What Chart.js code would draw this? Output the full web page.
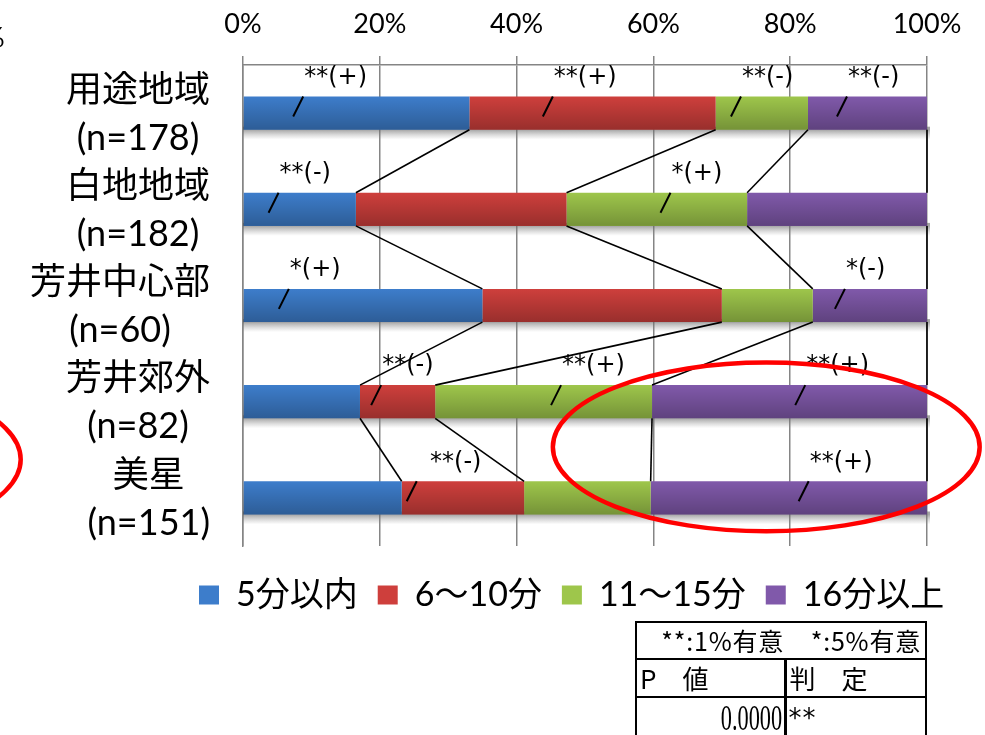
<!DOCTYPE html>
<html lang="ja">
<head>
<meta charset="utf-8">
<title>地域別 所要時間の構成比</title>
<script src="https://cdn.jsdelivr.net/npm/chart.js@4.4.1/dist/chart.umd.min.js"></script>
<style>
  html, body { margin: 0; padding: 0; background: #fff; }
  body { position: relative; width: 985px; height: 735px; overflow: hidden; font-family: Lato, "Noto Sans CJK JP", sans-serif; color: #000; }
  #chartBox { position: absolute; left: 0; top: 0; }
  .edge-pct { position: absolute; left: -17px; top: 23px; font: 27px/27px Lato, sans-serif; }
  table.sig { position: absolute; left: 635px; top: 621px; border-collapse: collapse; font-family: "Noto Sans CJK JP", sans-serif; }
  table.sig td { border: 2px solid #000; padding: 0; line-height: 1; white-space: nowrap; overflow: hidden; }
  table.sig .head td { height: 35px; font-size: 25px; letter-spacing: 0.8px; text-align: right; padding-right: 4px; }
  table.sig .cols td { height: 36px; font-size: 26px; padding-left: 3px; }
  table.sig .vals td { height: 40px; }
  table.sig td.split { border-right-width: 3px; }
  .pval { display: inline-block; font: 36px/36px "Liberation Serif", serif; transform: scaleX(0.62); transform-origin: right center; padding-right: 3px; }
  .judge { font: 26px "DejaVu Sans", sans-serif; letter-spacing: 1px; padding-left: 2px; vertical-align: middle; }
</style>
</head>
<body>
<canvas id="chartBox" width="985" height="622"></canvas>
<div class="edge-pct">%</div>

<table class="sig">
  <colgroup><col style="width:149px"><col style="width:141px"></colgroup>
  <tr class="head"><td colspan="2">**:1%有意&ensp;&ensp;*:5%有意</td></tr>
  <tr class="cols"><td class="split">P　値</td><td>判　定</td></tr>
  <tr class="vals"><td class="split" style="text-align:right"><span class="pval">0.0000</span></td><td><span class="judge">**</span></td></tr>
</table>

<script>
// ─── Data ─────────────────────────────────────────────────
const areas    = ['用途地域', '白地地域', '芳井中心部', '芳井郊外', '美星'];
const samples  = [178, 182, 60, 82, 151];
const bands    = ['5分以内', '6〜10分', '11〜15分', '16分以上'];

// share of respondents per travel-time band (%)
const within5   = [33.1, 16.5, 35.0, 17.1, 23.2];
const min6to10  = [36.0, 30.8, 35.0, 11.0, 17.9];
const min11to15 = [13.5, 26.4, 13.3, 31.7, 18.5];
const over16    = [17.4, 26.3, 16.7, 40.2, 40.4];

const pctTicks = [0, 20, 40, 60, 80, 100];

// significance marks: row, where on the bar (%), label
const marks = [
  { row: 0, at: 8.8,  text: '**(+)' },
  { row: 0, at: 45.3, text: '**(+)' },
  { row: 0, at: 72.8, text: '**(-)' },
  { row: 0, at: 88.3, text: '**(-)' },
  { row: 1, at: 5.2,  text: '**(-)' },
  { row: 1, at: 62.5, text: '*(+)' },
  { row: 2, at: 6.7,  text: '*(+)' },
  { row: 2, at: 88.0, text: '*(-)' },
  { row: 3, at: 20.2, text: '**(-)' },
  { row: 3, at: 46.5, text: '**(+)' },
  { row: 3, at: 82.2, text: '**(+)' },
  { row: 4, at: 25.4, text: '**(-)', textAt: 27.2 },
  { row: 4, at: 82.7, text: '**(+)' },
];

// red highlight rings (centre in % / row units, radii in the same units)
const rings = [
  { at: 76.5,  row: 3.47, spanX: 31.2, spanY: 0.877 },
  { at: -63.7, row: 3.6,  spanX: 31.2, spanY: 0.877 },
];

const seriesColors = ['#3d7dcb', '#ce3f3c', '#9ec64b', '#8059aa'];
const seriesValues = [within5, min6to10, min11to15, over16];

const FONT = 'Lato, "Noto Sans CJK JP", sans-serif';

// ─── Bar decoration: shadow, shading, series lines, marks ──
const barDecor = {
  id: 'barDecor',
  beforeDatasetsDraw(chart) {
    const { ctx, scales: { x } } = chart;
    const left = x.getPixelForValue(0);
    const width = x.getPixelForValue(100) - left;
    ctx.save();
    chart.getDatasetMeta(0).data.forEach(bar => {
      const bottom = bar.y + bar.height / 2;
      const g = ctx.createLinearGradient(0, bottom, 0, bottom + 10);
      g.addColorStop(0, 'rgba(105,105,105,0.6)');
      g.addColorStop(1, 'rgba(150,150,150,0)');
      ctx.fillStyle = g;
      ctx.fillRect(left, bottom - 3, width + 3, 13);
    });
    ctx.restore();
  },
  afterDatasetsDraw(chart) {
    const { ctx, scales: { x } } = chart;
    const left = x.getPixelForValue(0);
    const width = x.getPixelForValue(100) - left;
    const rows = chart.getDatasetMeta(0).data;
    ctx.save();

    // darker toward the bottom edge of every bar
    rows.forEach(bar => {
      const top = bar.y - bar.height / 2;
      const g = ctx.createLinearGradient(0, top, 0, top + bar.height);
      g.addColorStop(0, 'rgba(0,0,0,0)');
      g.addColorStop(1, 'rgba(0,0,0,0.26)');
      ctx.fillStyle = g;
      ctx.fillRect(left, top, width, bar.height);
    });

    // series lines joining the segment ends of neighbouring bars
    ctx.strokeStyle = '#000';
    ctx.lineWidth = 1.6;
    chart.data.datasets.forEach((ds, di) => {
      const segs = chart.getDatasetMeta(di).data;
      for (let i = 0; i < segs.length - 1; i++) {
        const a = segs[i], b = segs[i + 1];
        ctx.beginPath();
        ctx.moveTo(a.x, a.y + a.height / 2);
        ctx.lineTo(b.x, b.y - b.height / 2);
        ctx.stroke();
      }
    });

    // significance marks
    ctx.lineWidth = 2;
    ctx.font = '24px "DejaVu Sans", sans-serif';
    ctx.fillStyle = '#000';
    ctx.textAlign = 'left';
    ctx.textBaseline = 'middle';
    marks.forEach(m => {
      const bar = rows[m.row];
      const top = bar.y - bar.height / 2;
      const px = x.getPixelForValue(m.at);
      ctx.beginPath();
      ctx.moveTo(px, top);
      ctx.lineTo(px - 10, top + 20);
      ctx.stroke();
      ctx.fillText(m.text, x.getPixelForValue(m.textAt ?? m.at) + 1, top - 19);
    });
    ctx.restore();
  },
  afterDraw(chart) {
    const { ctx, scales: { x, y }, chartArea } = chart;
    ctx.save();

    // two-line category labels, each block centred on its own width
    ctx.font = '36px ' + FONT;
    ctx.fillStyle = '#000';
    ctx.textAlign = 'center';
    ctx.textBaseline = 'middle';
    const right = chartArea.left - 33;
    areas.forEach((name, i) => {
      const lines = [name, `(n=${samples[i]})`];
      const w = Math.max(...lines.map(l => ctx.measureText(l).width));
      const cy = y.getPixelForValue(i);
      ctx.fillText(lines[0], right - w / 2, cy - 23);
      ctx.fillText(lines[1], right - w / 2, cy + 25);
    });

    // highlight rings
    ctx.strokeStyle = '#ff0000';
    ctx.lineWidth = 4.5;
    rings.forEach(r => {
      const cx = x.getPixelForValue(r.at);
      const cy = y.getPixelForValue(r.row);
      const rx = x.getPixelForValue(r.at + r.spanX) - cx;
      const ry = y.getPixelForValue(r.row + r.spanY) - cy;
      ctx.beginPath();
      ctx.ellipse(cx, cy, rx, ry, 0, 0, Math.PI * 2);
      ctx.stroke();
    });
    ctx.restore();
  }
};

// ─── Chart ────────────────────────────────────────────────
new Chart(document.getElementById('chartBox'), {
  type: 'bar',
  data: {
    labels: areas,
    datasets: bands.map((label, i) => ({
      label,
      data: seriesValues[i],
      backgroundColor: seriesColors[i],
      borderWidth: 0,
      barPercentage: 0.345,
      categoryPercentage: 1,
    }))
  },
  options: {
    indexAxis: 'y',
    responsive: false,
    animation: false,
    events: [],
    layout: { padding: { top: 7, left: 179, right: 0, bottom: 0 } },
    scales: {
      x: {
        position: 'top',
        stacked: true,
        min: 0, max: 100,
        afterBuildTicks(scale) { scale.ticks = pctTicks.map(v => ({ value: v })); },
        afterFit(scale) {
          scale.height = 58;
          scale.paddingRight = 58;
          scale.paddingLeft = 0;
        },
        ticks: {
          padding: 16,
          color: '#000',
          font: { family: FONT, size: 27 },
          callback: v => v + '%'
        },
        grid: { color: '#858585', lineWidth: 1.5, tickLength: 9 },
        border: { color: '#858585', width: 1.5 }
      },
      y: {
        stacked: true,
        afterFit(scale) { scale.width = 64; },
        ticks: { display: false },
        grid: { display: false },
        border: { color: '#858585', width: 1.5 }
      }
    },
    plugins: {
      tooltip: { enabled: false },
      legend: {
        position: 'bottom',
        align: 'start',
        title: { display: true, text: '', font: { size: 10 }, padding: 0 },
        labels: {
          boxWidth: 20,
          boxHeight: 19,
          padding: 20,
          color: '#000',
          font: { family: FONT, size: 34 }
        }
      }
    }
  },
  plugins: [barDecor]
});
</script>
</body>
</html>
